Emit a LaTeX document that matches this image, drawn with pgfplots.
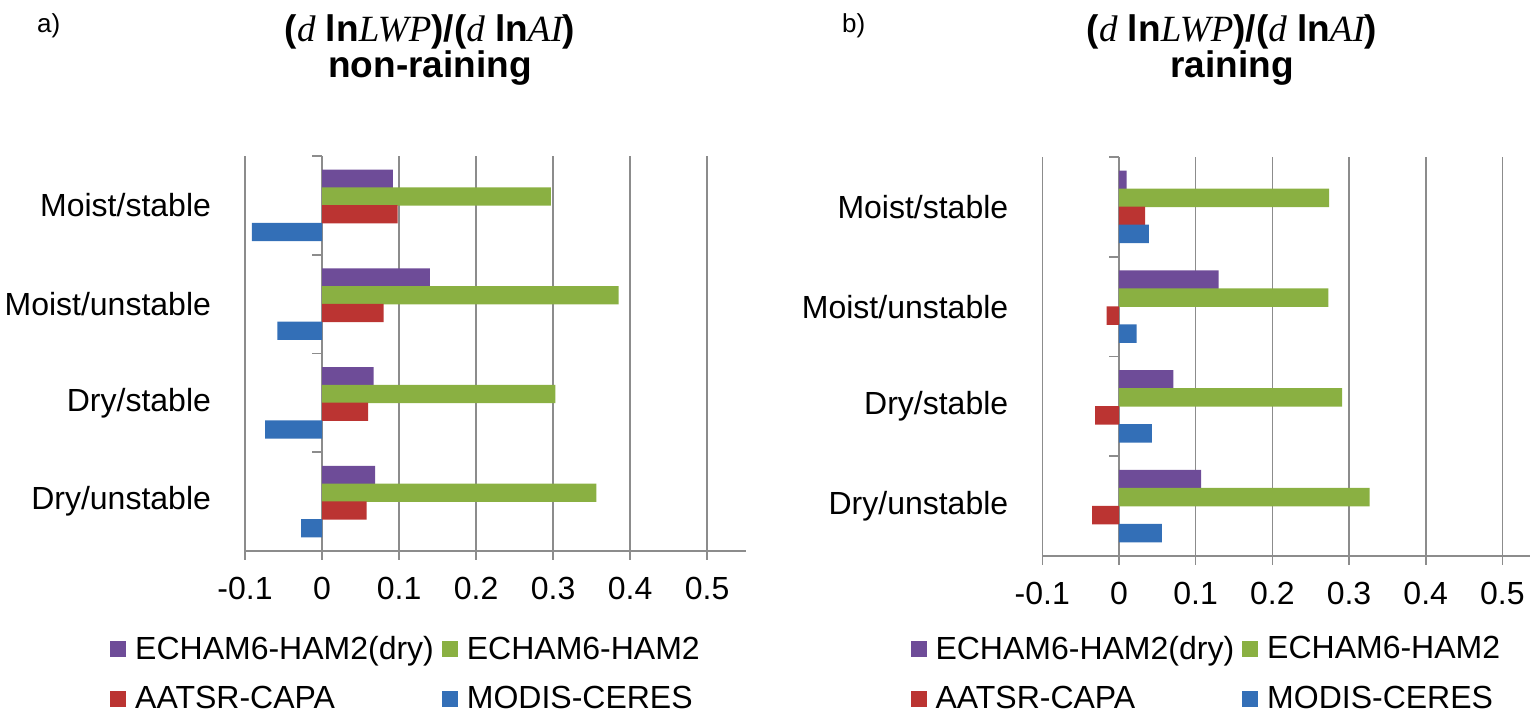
\documentclass[border=0pt]{standalone}
\usepackage{pgfplots}
\pgfplotsset{compat=1.18}
\usepackage{fontspec}
\setmainfont{Liberation Sans}
\newfontfamily\serifit{Liberation Serif}
\definecolor{gridgray}{HTML}{8C8C8C}
\definecolor{cpur}{HTML}{6E4C98}
\definecolor{cgrn}{HTML}{8AB042}
\definecolor{cred}{HTML}{BB3432}
\definecolor{cblu}{HTML}{336FB7}
\newcommand\fsz{\fontsize{16}{19}\selectfont}
\newcommand\mi[1]{{\serifit\mdseries\itshape #1}}
\pgfplotsset{
  panel/.style={
    scale only axis,
    anchor=south west,
    xmin=-0.1, ymin=-0.5, ymax=3.5,
    axis x line*=bottom, axis y line*=left,
    axis line style={draw=gridgray, line width=0.8pt, -},
    xmajorgrids, grid style={draw=gridgray, line width=0.8pt},
    xtick={-0.1,0,0.1,0.2,0.3,0.4,0.5},
    xticklabels={-0.1,0,0.1,0.2,0.3,0.4,0.5},
    x tick style={draw=gridgray, line width=0.8pt},
    tick align=outside, major tick length=4.5pt,
    ytick={0,1,2,3},
    yticklabels={Dry/unstable,Dry/stable,Moist/unstable,Moist/stable},
    y tick style={draw=none},
    yticklabel style={font=\fsz, xshift=-9pt},
    xticklabel style={font=\fsz, yshift=-5pt},
    clip=false,
    legend columns=2,
    legend cell align=left,
    legend style={draw=none, fill=none, inner sep=0pt, font=\fsz,
      row sep=8pt,
      /tikz/every even column/.append style={column sep=2pt}},
    legend image code/.code={\fill[##1, draw=none] (0pt,-4pt) rectangle (8pt,4pt); \path (10.5pt,0pt);},
  },
  bp/.style={xbar, bar width=0.185, draw=none},
}
\begin{document}
\begin{tikzpicture}
\path[use as bounding box] (0,0) rectangle (766.5pt,358pt);
% titles
\node[anchor=base west, font=\fontsize{13}{15}\selectfont] at (15pt,341.5pt) {a)};
\node[anchor=base west, font=\fontsize{13}{15}\selectfont] at (417.5pt,341.5pt) {b)};
\node[anchor=base, font=\fontsize{18.5}{22}\selectfont\bfseries] at (215pt,337pt) {(\mi{d} ln\mi{LWP})/(\mi{d} ln\mi{AI})};
\node[anchor=base, font=\fontsize{18.5}{22}\selectfont\bfseries] at (215pt,319pt) {non-raining};
\node[anchor=base, font=\fontsize{18.5}{22}\selectfont\bfseries] at (616pt,337pt) {(\mi{d} ln\mi{LWP})/(\mi{d} ln\mi{AI})};
\node[anchor=base, font=\fontsize{18.5}{22}\selectfont\bfseries] at (616pt,319pt) {raining};

\begin{axis}[panel, at={(122.5pt,82.5pt)}, width=250.35pt, height=197.5pt, xmax=0.55,
  legend style={at={(axis description cs:-0.27,-0.205)}, anchor=north west}]
\addplot[bp, bar shift=0.27, fill=cpur] coordinates {(0.092,3) (0.140,2) (0.067,1) (0.069,0)};
\addlegendentry{ECHAM6-HAM2(dry)}
\addplot[bp, bar shift=0.09, fill=cgrn] coordinates {(0.297,3) (0.385,2) (0.303,1) (0.356,0)};
\addlegendentry{ECHAM6-HAM2}
\addplot[bp, bar shift=-0.09, fill=cred] coordinates {(0.098,3) (0.080,2) (0.060,1) (0.058,0)};
\addlegendentry{AATSR-CAPA}
\addplot[bp, bar shift=-0.27, fill=cblu] coordinates {(-0.091,3) (-0.058,2) (-0.074,1) (-0.027,0)};
\addlegendentry{MODIS-CERES}
\pgfplotsinvokeforeach{-0.5,0.5,1.5,2.5,3.5}{\draw[gridgray, line width=0.8pt] (axis cs:0,#1) -- ++(-5pt,0pt);}
\end{axis}

\begin{axis}[panel, at={(521.15pt,80pt)}, width=243.85pt, height=199.5pt, xmax=0.536,
  legend style={at={(axis description cs:-0.271,-0.19)}, anchor=north west}]
\addplot[bp, bar shift=0.27, fill=cpur] coordinates {(0.010,3) (0.130,2) (0.071,1) (0.107,0)};
\addlegendentry{ECHAM6-HAM2(dry)}
\addplot[bp, bar shift=0.09, fill=cgrn] coordinates {(0.274,3) (0.273,2) (0.291,1) (0.327,0)};
\addlegendentry{ECHAM6-HAM2}
\addplot[bp, bar shift=-0.09, fill=cred] coordinates {(0.034,3) (-0.016,2) (-0.031,1) (-0.035,0)};
\addlegendentry{AATSR-CAPA}
\addplot[bp, bar shift=-0.27, fill=cblu] coordinates {(0.039,3) (0.023,2) (0.043,1) (0.056,0)};
\addlegendentry{MODIS-CERES}
\pgfplotsinvokeforeach{-0.5,0.5,1.5,2.5,3.5}{\draw[gridgray, line width=0.8pt] (axis cs:0,#1) -- ++(-5pt,0pt);}
\end{axis}
\end{tikzpicture}
\end{document}
